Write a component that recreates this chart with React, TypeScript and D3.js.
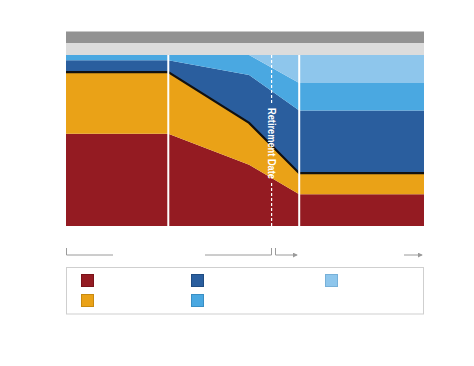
import React from "react";
import * as d3 from "d3";

const periods = [0, 10, 17.9, 22.8, 35];
const retirementPeriod = 20.1;
const dividers = [10, 22.8];
const seriesKeys = ["red", "orange", "darkBlue", "midBlue", "lightBlue"];
const redValues = [54, 54, 35.8, 18.5, 18.5];
const orangeValues = [36, 36, 24.5, 12.4, 12.4];
const darkBlueValues = [7, 7, 28, 36.7, 36.7];
const midBlueValues = [3, 3, 11.7, 16, 16];
const lightBlueValues = [0, 0, 0, 16.4, 16.4];
const colors = ["#941b22", "#eaa217", "#2a5e9e", "#4aa8e1", "#8ec6ec"];
const legendStroke = ["#7a1219", "#c88a10", "#1f4c82", "#3a8fc4", "#77b0d8"];
const retirementLabel = "Retirement Date";

const W = 474, H = 366;
const left = 66, right = 424, top = 55, bottom = 226;

export default function App() {
  const x = d3.scaleLinear().domain([0, 35]).range([left, right]);
  const y = d3.scaleLinear().domain([0, 100]).range([bottom, top]);
  const table = periods.map((p, i) => ({
    p,
    red: redValues[i],
    orange: orangeValues[i],
    darkBlue: darkBlueValues[i],
    midBlue: midBlueValues[i],
    lightBlue: lightBlueValues[i],
  }));
  const stacked = d3.stack<any>().keys(seriesKeys)(table);
  const area = d3
    .area<any>()
    .x((d) => x(d.data.p))
    .y0((d) => y(d[0]))
    .y1((d) => y(d[1]));
  const topLine = d3
    .line<any>()
    .x((d) => x(d.data.p))
    .y((d) => y(d[1]));
  const rx = x(retirementPeriod);
  const textMid = 143.5;
  const textLen = 71;

  const bracketY = 255;
  const gray = "#9a9a9a";

  const legendItems = [
    { c: 0, x: 81, y: 274 },
    { c: 1, x: 81, y: 294 },
    { c: 2, x: 191, y: 274 },
    { c: 3, x: 191, y: 294 },
    { c: 4, x: 325, y: 274 },
  ];

  return (
    <svg
      width={W}
      height={H}
      style={{ position: "absolute", left: 0, top: 0, background: "#fff" }}
    >
      <defs>
        <marker id="arr" viewBox="0 0 6 6" refX="5" refY="3" markerWidth="5" markerHeight="5" orient="auto">
          <path d="M0,0 L6,3 L0,6 Z" fill={gray} />
        </marker>
      </defs>
      <rect x={left} y={31.5} width={right - left} height={11.8} fill="#929292" />
      <rect x={left} y={43.3} width={right - left} height={11.7} fill="#dcdcdc" />
      {stacked.map((s, i) => (
        <path key={s.key} d={area(s) || ""} fill={colors[i]} />
      ))}
      <path d={topLine(stacked[1]) || ""} fill="none" stroke="#111" strokeWidth={2.2} />
      {dividers.map((d) => (
        <line key={d} x1={x(d)} x2={x(d)} y1={top} y2={bottom} stroke="#fff" strokeWidth={2} />
      ))}
      <line x1={rx} x2={rx} y1={top} y2={textMid - textLen / 2 - 4} stroke="#fff" strokeWidth={1.2} strokeDasharray="3,2" />
      <line x1={rx} x2={rx} y1={textMid + textLen / 2 + 4} y2={bottom} stroke="#fff" strokeWidth={1.2} strokeDasharray="3,2" />
      <text
        transform={`translate(${rx - 4},${textMid}) rotate(90)`}
        textAnchor="middle"
        fill="#fff"
        fontFamily="Liberation Sans, Arial, sans-serif"
        fontWeight="bold"
        fontSize={10.5}
        textLength={textLen}
        lengthAdjust="spacingAndGlyphs"
      >
        {retirementLabel}
      </text>

      <g stroke={gray} strokeWidth={1} fill="none">
        <path d={`M${left + 0.5},248 V${bracketY} H113`} />
        <path d={`M205,${bracketY} H271.5 V248`} />
        <path d={`M275.5,248 V${bracketY} H297`} markerEnd="url(#arr)" />
        <path d={`M404,${bracketY} H422`} markerEnd="url(#arr)" />
      </g>

      <rect x={66.5} y={267.5} width={357} height={46.5} fill="#fff" stroke="#cfcfcf" strokeWidth={1} />
      {legendItems.map((it, i) => (
        <rect
          key={i}
          x={it.x + 0.5}
          y={it.y + 0.5}
          width={12}
          height={12}
          fill={colors[it.c]}
          stroke={legendStroke[it.c]}
          strokeWidth={1}
        />
      ))}
    </svg>
  );
}
